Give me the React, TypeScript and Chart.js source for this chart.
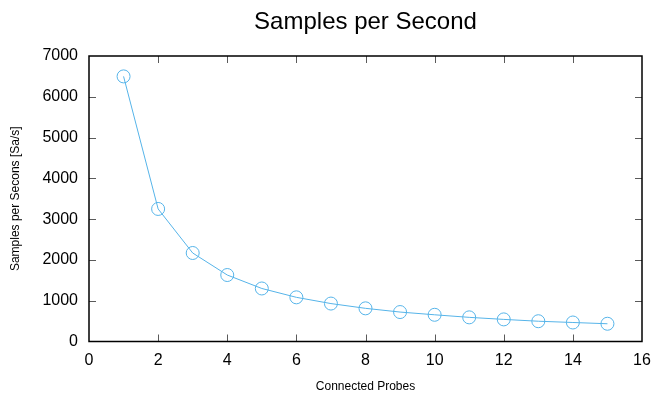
import React, { useEffect, useRef } from "react";
import { Chart, registerables } from "chart.js";

Chart.register(...registerables);

const TITLE = "Samples per Second";
const X_LABEL = "Connected Probes";
const Y_LABEL = "Samples per Secons [Sa/s]";

const probes = [1, 2, 3, 4, 5, 6, 7, 8, 9, 10, 11, 12, 13, 14, 15];
const samplesPerSecond = [6500, 3250, 2170, 1630, 1300, 1083, 930, 813, 722, 655, 592, 542, 497, 466, 435];

const X_MIN = 0, X_MAX = 16, X_STEP = 2;
const Y_MIN = 0, Y_MAX = 7000, Y_STEP = 1000;

const LINE_COLOR = "#56b4e9";
const FONT = "'Liberation Sans', Arial, sans-serif";

const framePlugin = {
  id: "gnuFrame",
  afterDatasetsDraw(chart: any) {
    const { ctx, chartArea, scales } = chart;
    const { left, right, top, bottom } = chartArea;
    ctx.save();
    ctx.strokeStyle = "#5a5a5a";
    ctx.lineWidth = 1;
    const tl = 7;
    scales.y.ticks.forEach((t: any) => {
      if (t.value <= Y_MIN || t.value >= Y_MAX) return;
      const y = Math.round(scales.y.getPixelForValue(t.value)) + 0.5;
      ctx.beginPath();
      ctx.moveTo(left, y); ctx.lineTo(left + tl, y);
      ctx.moveTo(right, y); ctx.lineTo(right - tl, y);
      ctx.stroke();
    });
    scales.x.ticks.forEach((t: any) => {
      if (t.value <= X_MIN || t.value >= X_MAX) return;
      const x = Math.round(scales.x.getPixelForValue(t.value)) + 0.5;
      ctx.beginPath();
      ctx.moveTo(x, bottom); ctx.lineTo(x, bottom - tl);
      ctx.moveTo(x, top); ctx.lineTo(x, top + tl);
      ctx.stroke();
    });
    ctx.strokeStyle = "#000";
    ctx.lineWidth = 1.5;
    ctx.strokeRect(left, top, right - left, bottom - top);
    ctx.fillStyle = "#000";
    ctx.font = `24px ${FONT}`;
    ctx.textAlign = "center";
    ctx.textBaseline = "alphabetic";
    ctx.fillText(TITLE, (left + right) / 2, 28.5);
    ctx.restore();
  },
};

export default function App() {
  const ref = useRef<HTMLCanvasElement | null>(null);
  useEffect(() => {
    document.body.style.margin = "0";
    const canvas = ref.current!;
    const chart = new Chart(canvas, {
      type: "line",
      data: {
        datasets: [
          {
            label: TITLE,
            data: probes.map((p, i) => ({ x: p, y: samplesPerSecond[i] })),
            borderColor: LINE_COLOR,
            backgroundColor: "transparent",
            borderWidth: 1,
            pointStyle: "circle",
            pointRadius: 6.5,
            pointBorderWidth: 1,
            pointBorderColor: LINE_COLOR,
            pointBackgroundColor: "transparent",
            tension: 0,
          },
        ],
      },
      options: {
        responsive: false,
        animation: false,
        layout: { padding: { top: 56, right: 13, left: 0, bottom: 0 } },
        plugins: { legend: { display: false }, tooltip: { enabled: false }, title: { display: false } },
        scales: {
          x: {
            type: "linear",
            min: X_MIN,
            max: X_MAX,
            grid: { display: false, drawTicks: false },
            border: { display: false },
            ticks: {
              stepSize: X_STEP, color: "#000", padding: 9, font: { family: FONT, size: 16 }, maxRotation: 0,
              callback: (v: any) => String(v),
            },
            title: { display: true, text: X_LABEL, color: "#000", font: { family: FONT, size: 12 }, padding: { top: 3, bottom: 0 } },
            afterFit(scale: any) { scale.height = 52.5; scale.paddingLeft = 0; scale.paddingRight = 0; },
          },
          y: {
            type: "linear",
            min: Y_MIN,
            max: Y_MAX,
            grid: { display: false, drawTicks: false },
            border: { display: false },
            ticks: {
              stepSize: Y_STEP, color: "#000", padding: 11, font: { family: FONT, size: 16 },
              callback: (v: any) => String(v),
            },
            title: { display: true, text: Y_LABEL, color: "#000", font: { family: FONT, size: 12 }, padding: { top: 8, bottom: 0 } },
            afterFit(scale: any) { scale.width = 89; scale.paddingTop = 0; scale.paddingBottom = 0; },
          },
        },
      },
      plugins: [framePlugin],
    });
    return () => chart.destroy();
  }, []);
  return <canvas ref={ref} width={655} height={394} style={{ display: "block" }} />;
}
